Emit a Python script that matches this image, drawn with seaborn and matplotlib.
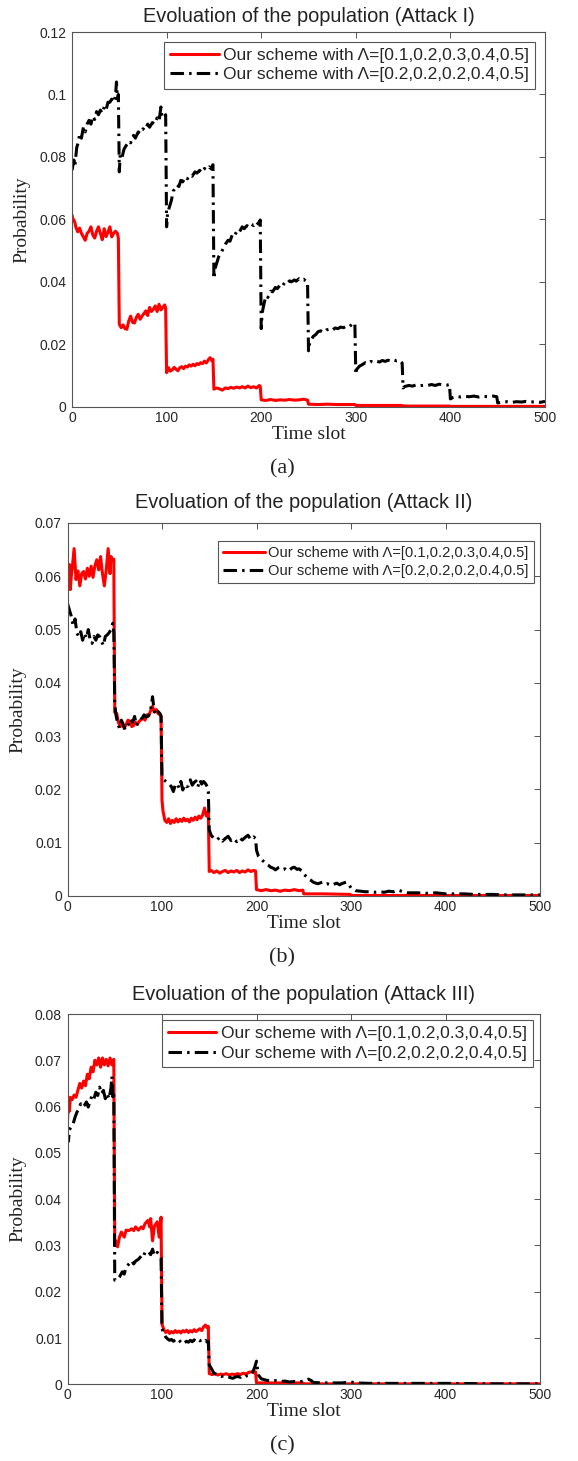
import matplotlib
matplotlib.use('Agg')
import matplotlib.pyplot as plt
import seaborn as sns
from matplotlib.ticker import MultipleLocator, FuncFormatter

# ---- data ----
label_red = 'Our scheme with Λ=[0.1,0.2,0.3,0.4,0.5]'
label_black = 'Our scheme with Λ=[0.2,0.2,0.2,0.4,0.5]'
titles = ['Evoluation of the population (Attack I)',
          'Evoluation of the population (Attack II)',
          'Evoluation of the population (Attack III)']
tags = ['(a)', '(b)', '(c)']
x_ticks = [0, 100, 200, 300, 400, 500]

# Attack I, red
t_a1 = [0, 1, 2, 3, 4, 6, 8, 10, 12, 14, 16, 18, 20, 22, 24, 26, 28, 30, 32, 34, 36, 38, 40, 42, 44, 46, 48, 49,
        50, 52, 54, 56, 58, 60, 62, 64, 66, 68, 70, 72, 74, 76, 78, 80, 82, 84, 86, 88, 90, 92, 94, 96, 98, 99,
        100, 102, 104, 106, 108, 110, 112, 114, 116, 118, 120, 122, 124, 126, 128, 130, 132, 134, 136, 138, 140,
        142, 144, 146, 148, 149,
        150, 153, 156, 159, 162, 165, 168, 171, 174, 177, 180, 183, 186, 189, 192, 195, 198, 199,
        200, 205, 210, 215, 220, 225, 230, 235, 240, 245, 249,
        250, 260, 270, 280, 290, 299, 300, 325, 349, 350, 375, 399, 400, 450, 500]
p_a1 = [0.0614, 0.0600, 0.0598, 0.0590, 0.0576, 0.0560, 0.0572, 0.0555, 0.0544, 0.0533, 0.0555, 0.0562, 0.0576,
        0.0550, 0.0540, 0.0562, 0.0576, 0.0555, 0.0535, 0.0570, 0.0545, 0.0558, 0.0576, 0.0544, 0.0555, 0.0562,
        0.0555, 0.0540,
        0.0264, 0.0253, 0.0262, 0.0250, 0.0248, 0.0275, 0.0290, 0.0270, 0.0268, 0.0286, 0.0296, 0.0280, 0.0290,
        0.0298, 0.0307, 0.0292, 0.0318, 0.0305, 0.0312, 0.0323, 0.0305, 0.0328, 0.0310, 0.0318, 0.0326, 0.0315,
        0.0109, 0.0125, 0.0114, 0.0118, 0.0126, 0.0120, 0.0115, 0.0125, 0.0128, 0.0122, 0.0130, 0.0127, 0.0134,
        0.0130, 0.0136, 0.0131, 0.0138, 0.0135, 0.0141, 0.0138, 0.0146, 0.0140, 0.0150, 0.0157, 0.0147, 0.0152,
        0.0056, 0.0060, 0.0057, 0.0053, 0.0060, 0.0058, 0.0062, 0.0059, 0.0063, 0.0060, 0.0064, 0.0060, 0.0066,
        0.0061, 0.0064, 0.0060, 0.0068, 0.0065,
        0.0022, 0.0020, 0.0023, 0.0020, 0.0022, 0.0021, 0.0023, 0.0021, 0.0022, 0.0024, 0.0021,
        0.0008, 0.0007, 0.0008, 0.0007, 0.0007, 0.0007, 0.0004, 0.0004, 0.0004, 0.0002, 0.0002, 0.0002,
        0.0001, 0.0001, 0.0001]

# Attack I, black
t_a2 = [0, 2, 3, 5, 7, 8, 10, 12, 14, 16, 18, 20, 22, 24, 26, 28, 30, 32, 34, 36, 38, 40, 42, 44, 46, 47, 48, 49,
        50, 51, 53, 55, 57, 60, 62, 65, 67, 70, 72, 75, 77, 80, 82, 85, 87, 90, 92, 94, 95, 97, 99,
        100, 101, 103, 105, 107, 109, 111, 113, 115, 117, 120, 122, 125, 127, 130, 132, 135, 137, 140, 142, 145,
        147, 149,
        150, 151, 153, 155, 157, 160, 162, 165, 167, 170, 172, 175, 177, 180, 182, 185, 187, 190, 192, 195, 197, 199,
        200, 201, 203, 205, 207, 210, 212, 215, 217, 220, 222, 225, 227, 230, 232, 235, 237, 240, 242, 245, 247, 249,
        250, 251, 253, 255, 258, 260, 263, 266, 269, 272, 275, 278, 281, 284, 287, 290, 293, 296, 299,
        300, 301, 304, 307, 310, 313, 316, 319, 322, 325, 328, 331, 334, 337, 340, 343, 346, 349,
        350, 352, 356, 360, 364, 368, 372, 376, 380, 384, 388, 392, 396, 399,
        400, 403, 407, 411, 415, 420, 425, 430, 435, 440, 445, 449,
        450, 455, 460, 465, 470, 475, 480, 485, 490, 495, 500]
p_a2 = [0.0757, 0.0790, 0.0770, 0.0830, 0.0850, 0.0875, 0.0860, 0.0895, 0.0880, 0.0905, 0.0917, 0.0905, 0.0930,
        0.0920, 0.0945, 0.0935, 0.0950, 0.0940, 0.0960, 0.0950, 0.0975, 0.0975, 0.0985, 0.0975, 0.0995, 0.1040,
        0.0985, 0.1000,
        0.0752, 0.0810, 0.0800, 0.0825, 0.0835, 0.0850, 0.0845, 0.0869, 0.0860, 0.0880, 0.0875, 0.0890, 0.0885,
        0.0905, 0.0895, 0.0910, 0.0905, 0.0925, 0.0915, 0.0960, 0.0930, 0.0925, 0.0935,
        0.0576, 0.0620, 0.0640, 0.0660, 0.0690, 0.0700, 0.0710, 0.0705, 0.0725, 0.0720, 0.0736, 0.0730, 0.0742,
        0.0738, 0.0752, 0.0748, 0.0757, 0.0750, 0.0763, 0.0758, 0.0768, 0.0762, 0.0775,
        0.0410, 0.0440, 0.0460, 0.0480, 0.0490, 0.0507, 0.0520, 0.0533, 0.0530, 0.0555, 0.0550, 0.0565, 0.0560,
        0.0576, 0.0570, 0.0580, 0.0575, 0.0584, 0.0580, 0.0592, 0.0585, 0.0598,
        0.0250, 0.0300, 0.0330, 0.0355, 0.0350, 0.0370, 0.0368, 0.0382, 0.0378, 0.0390, 0.0385, 0.0398, 0.0394,
        0.0403, 0.0400, 0.0406, 0.0402, 0.0410, 0.0405, 0.0408, 0.0402, 0.0398,
        0.0179, 0.0200, 0.0215, 0.0225, 0.0232, 0.0240, 0.0243, 0.0238, 0.0246, 0.0248, 0.0244, 0.0252, 0.0250,
        0.0255, 0.0253, 0.0258, 0.0256, 0.0264, 0.0268,
        0.0104, 0.0120, 0.0130, 0.0135, 0.0141, 0.0138, 0.0145, 0.0142, 0.0146, 0.0143, 0.0148, 0.0145, 0.0149,
        0.0146, 0.0150, 0.0147, 0.0149, 0.0140,
        0.0060, 0.0065, 0.0068, 0.0066, 0.0070, 0.0067, 0.0069, 0.0068, 0.0071, 0.0068, 0.0072, 0.0070, 0.0069,
        0.0071,
        0.0025, 0.0030, 0.0033, 0.0031, 0.0033, 0.0032, 0.0034, 0.0031, 0.0033, 0.0032, 0.0034, 0.0032,
        0.0012, 0.0015, 0.0016, 0.0014, 0.0016, 0.0015, 0.0017, 0.0015, 0.0016, 0.0014, 0.0017]

# Attack II, red
t_b1 = [0, 1, 2, 3, 4, 5, 7, 9, 11, 13, 15, 17, 19, 21, 23, 25, 27, 29, 31, 33, 35, 37, 39, 41, 43, 45, 46, 48, 49,
        50, 52, 54, 56, 58, 60, 62, 64, 66, 68, 70, 72, 74, 76, 78, 80, 82, 84, 86, 88, 90, 92, 94, 96, 98, 99,
        100, 101, 103, 105, 107, 109, 111, 113, 115, 117, 119, 121, 123, 125, 127, 129, 131, 133, 135, 137, 139,
        141, 143, 145, 147, 149,
        150, 152, 155, 158, 161, 164, 167, 170, 173, 176, 179, 182, 185, 188, 191, 194, 197, 199,
        200, 205, 210, 215, 220, 225, 230, 235, 240, 245, 249,
        250, 270, 299, 300, 400, 500]
p_b1 = [0.0615, 0.0590, 0.0622, 0.0575, 0.0600, 0.0615, 0.0652, 0.0594, 0.0610, 0.0582, 0.0605, 0.0609, 0.0595,
        0.0615, 0.0600, 0.0619, 0.0598, 0.0620, 0.0631, 0.0612, 0.0637, 0.0605, 0.0582, 0.0612, 0.0652, 0.0605,
        0.0637, 0.0630, 0.0632,
        0.0345, 0.0343, 0.0325, 0.0318, 0.0322, 0.0315, 0.0322, 0.0330, 0.0328, 0.0318, 0.0320, 0.0326, 0.0322,
        0.0328, 0.0331, 0.0334, 0.0330, 0.0340, 0.0338, 0.0348, 0.0356, 0.0345, 0.0350, 0.0342, 0.0340, 0.0338,
        0.0180, 0.0160, 0.0142, 0.0138, 0.0145, 0.0136, 0.0142, 0.0138, 0.0145, 0.0139, 0.0144, 0.0140, 0.0146,
        0.0141, 0.0144, 0.0139, 0.0146, 0.0142, 0.0148, 0.0143, 0.0150, 0.0146, 0.0152, 0.0165, 0.0150, 0.0158,
        0.0046, 0.0048, 0.0044, 0.0047, 0.0043, 0.0046, 0.0048, 0.0044, 0.0047, 0.0045, 0.0048, 0.0044, 0.0047,
        0.0045, 0.0049, 0.0046, 0.0048, 0.0047,
        0.0012, 0.0010, 0.0012, 0.0010, 0.0011, 0.0009, 0.0011, 0.0010, 0.0012, 0.0010, 0.0011,
        0.0004, 0.0004, 0.0003, 0.0001, 0.0001, 0.0001]

# Attack II, black
t_b2 = [0, 2, 4, 6, 8, 10, 12, 14, 16, 18, 20, 22, 24, 26, 28, 30, 32, 34, 36, 38, 40, 42, 44, 46, 48, 49,
        50, 51, 53, 55, 57, 59, 61, 63, 65, 67, 69, 71, 73, 75, 77, 79, 81, 83, 85, 87, 88, 90, 92, 94, 96, 98, 99,
        100, 102, 104, 106, 108, 110, 112, 114, 116, 118, 120, 122, 124, 126, 128, 130, 132, 134, 136, 138, 140,
        142, 144, 146, 148, 149,
        150, 152, 155, 158, 161, 164, 167, 170, 173, 176, 179, 182, 185, 188, 191, 194, 197, 199,
        200, 202, 205, 208, 210, 213, 215, 218, 220, 223, 225, 228, 230, 233, 235, 238, 240, 243, 245, 248,
        250, 253, 255, 258, 260, 263, 265, 268, 270, 273, 275, 278, 280, 283, 285, 288, 290, 293, 295, 298,
        300, 305, 310, 315, 320, 325, 330, 335, 340, 345, 350, 355, 360, 370, 380, 390, 400, 410, 420, 430,
        440, 450, 460, 470, 480, 490, 500]
p_b2 = [0.0549, 0.0537, 0.0525, 0.0507, 0.0520, 0.0493, 0.0487, 0.0496, 0.0480, 0.0493, 0.0484, 0.0500, 0.0480,
        0.0474, 0.0487, 0.0480, 0.0490, 0.0487, 0.0478, 0.0470, 0.0487, 0.0490, 0.0494, 0.0500, 0.0512, 0.0493,
        0.0362, 0.0343, 0.0324, 0.0315, 0.0330, 0.0322, 0.0312, 0.0318, 0.0324, 0.0332, 0.0326, 0.0337, 0.0320,
        0.0328, 0.0330, 0.0334, 0.0340, 0.0336, 0.0337, 0.0343, 0.0350, 0.0374, 0.0343, 0.0340, 0.0346, 0.0342,
        0.0337,
        0.0224, 0.0218, 0.0215, 0.0212, 0.0209, 0.0205, 0.0196, 0.0208, 0.0211, 0.0203, 0.0215, 0.0199, 0.0209,
        0.0205, 0.0207, 0.0218, 0.0208, 0.0213, 0.0216, 0.0205, 0.0218, 0.0210, 0.0215, 0.0211, 0.0205, 0.0196,
        0.0124, 0.0114, 0.0108, 0.0105, 0.0110, 0.0103, 0.0108, 0.0112, 0.0104, 0.0108, 0.0102, 0.0109, 0.0105,
        0.0110, 0.0114, 0.0106, 0.0111, 0.0108,
        0.0086, 0.0075, 0.0069, 0.0064, 0.0060, 0.0057, 0.0054, 0.0052, 0.0049, 0.0053, 0.0054, 0.0050, 0.0051,
        0.0047, 0.0049, 0.0053, 0.0054, 0.0050, 0.0051, 0.0047,
        0.0041, 0.0036, 0.0032, 0.0029, 0.0026, 0.0024, 0.0023, 0.0025, 0.0026, 0.0022, 0.0023, 0.0021, 0.0020,
        0.0023, 0.0024, 0.0021, 0.0023, 0.0025, 0.0026, 0.0021,
        0.0015, 0.0010, 0.0009, 0.0008, 0.0008, 0.0007, 0.0008, 0.0007, 0.0009, 0.0008, 0.0011, 0.0008, 0.0006,
        0.0006, 0.0005, 0.0006, 0.0004, 0.0004, 0.0004, 0.0003, 0.0003, 0.0003, 0.0002, 0.0002, 0.0002, 0.0002,
        0.0002]

# Attack III, red
t_c1 = [0, 1, 2, 3, 5, 7, 9, 11, 13, 15, 17, 19, 21, 23, 25, 27, 29, 31, 33, 35, 37, 39, 41, 43, 45, 47, 49,
        50, 51, 53, 55, 57, 60, 62, 65, 68, 70, 72, 75, 78, 80, 82, 85, 87, 88, 90, 92, 95, 97, 99,
        100, 102, 104, 106, 108, 110, 112, 114, 116, 118, 120, 122, 124, 126, 128, 130, 132, 134, 136, 138, 140,
        142, 144, 146, 148, 149,
        150, 153, 156, 159, 162, 165, 168, 171, 174, 177, 180, 183, 186, 189, 192, 195, 198, 199,
        200, 225, 249, 250, 500]
p_c1 = [0.0570, 0.0610, 0.0590, 0.0620, 0.0615, 0.0625, 0.0620, 0.0635, 0.0650, 0.0640, 0.0655, 0.0645, 0.0670,
        0.0660, 0.0685, 0.0675, 0.0700, 0.0690, 0.0705, 0.0685, 0.0705, 0.0690, 0.0702, 0.0688, 0.0705, 0.0690,
        0.0702,
        0.0300, 0.0310, 0.0297, 0.0318, 0.0329, 0.0318, 0.0333, 0.0332, 0.0336, 0.0332, 0.0340, 0.0333, 0.0340,
        0.0336, 0.0347, 0.0354, 0.0340, 0.0358, 0.0310, 0.0342, 0.0351, 0.0318, 0.0361,
        0.0130, 0.0118, 0.0112, 0.0116, 0.0110, 0.0114, 0.0111, 0.0116, 0.0112, 0.0115, 0.0111, 0.0116, 0.0113,
        0.0117, 0.0112, 0.0116, 0.0113, 0.0118, 0.0114, 0.0117, 0.0120, 0.0116, 0.0124, 0.0128, 0.0122, 0.0125,
        0.0023, 0.0021, 0.0023, 0.0020, 0.0022, 0.0021, 0.0023, 0.0020, 0.0022, 0.0021, 0.0023, 0.0021, 0.0024,
        0.0022, 0.0026, 0.0027, 0.0025, 0.0027,
        0.0003, 0.0003, 0.0003, 0.0001, 0.0001]

# Attack III, black
t_c2 = [0, 1, 2, 4, 6, 8, 10, 12, 14, 16, 18, 20, 22, 24, 26, 28, 30, 32, 34, 36, 38, 40, 42, 44, 46, 47, 48, 49,
        50, 52, 55, 58, 60, 62, 65, 68, 70, 72, 75, 78, 80, 82, 85, 88, 90, 92, 95, 97, 99,
        100, 102, 104, 106, 108, 110, 112, 114, 116, 118, 120, 122, 124, 126, 128, 130, 132, 134, 136, 138, 140,
        142, 144, 146, 148, 149,
        150, 152, 155, 158, 160, 163, 165, 168, 170, 173, 175, 178, 180, 183, 185, 188, 190, 193, 195, 198, 199,
        200, 202, 205, 210, 215, 220, 225, 230, 235, 240, 245, 250, 255, 258, 260, 270, 280, 290, 300, 305, 320,
        350, 400, 450, 500]
p_c2 = [0.0540, 0.0525, 0.0550, 0.0556, 0.0563, 0.0577, 0.0588, 0.0595, 0.0606, 0.0599, 0.0603, 0.0610, 0.0599,
        0.0613, 0.0624, 0.0617, 0.0631, 0.0624, 0.0642, 0.0628, 0.0635, 0.0617, 0.0628, 0.0617, 0.0640, 0.0665,
        0.0621, 0.0630,
        0.0225, 0.0225, 0.0232, 0.0243, 0.0238, 0.0253, 0.0260, 0.0267, 0.0260, 0.0266, 0.0270, 0.0277, 0.0274,
        0.0285, 0.0288, 0.0280, 0.0292, 0.0278, 0.0285, 0.0280, 0.0273,
        0.0120, 0.0110, 0.0102, 0.0098, 0.0095, 0.0097, 0.0093, 0.0096, 0.0092, 0.0095, 0.0091, 0.0094, 0.0090,
        0.0093, 0.0091, 0.0095, 0.0092, 0.0096, 0.0093, 0.0097, 0.0094, 0.0096, 0.0092, 0.0095, 0.0091, 0.0093,
        0.0042, 0.0035, 0.0024, 0.0021, 0.0019, 0.0017, 0.0018, 0.0016, 0.0016, 0.0014, 0.0013, 0.0016, 0.0017,
        0.0015, 0.0018, 0.0016, 0.0019, 0.0021, 0.0022, 0.0036, 0.0043,
        0.0050, 0.0020, 0.0012, 0.0009, 0.0007, 0.0008, 0.0006, 0.0007, 0.0005, 0.0006, 0.0005, 0.0007, 0.0011,
        0.0008, 0.0004, 0.0003, 0.0003, 0.0003, 0.0005, 0.0003, 0.0002, 0.0002, 0.0002, 0.0001, 0.0001]

y_max = [0.12, 0.07, 0.08]
y_step = [0.02, 0.01, 0.01]

# ---- layout (pixels of the 578x1461 picture) ----
W, H = 578, 1461
axes_px = [(72, 32, 545, 406.7), (67.5, 523, 540, 896), (67.5, 1014, 540, 1384.3)]
title_pad = [7.5, 10.5, 10]
legend_anchor = [(0.979, 0.974), (0.987, 0.952), (0.985, 0.984)]
legend_size = [12.5, 10.6, 12.5]
tag_px = [(282, 469), (282, 958), (282, 1446)]

sns.set_theme(style='white')
plt.rcParams['font.family'] = ['Liberation Sans', 'DejaVu Sans']
plt.rcParams['axes.unicode_minus'] = False

SERIF = ['Liberation Serif', 'DejaVu Serif']
EDGE = '#555555'


def draw_panel(ax, i, t_red, p_red, t_black, p_black):
    sns.lineplot(x=t_red, y=p_red, ax=ax, color='#ff0000', linewidth=2.2,
                 label=label_red, estimator=None, legend=False)
    sns.lineplot(x=t_black, y=p_black, ax=ax, color='black', linewidth=2.2,
                 linestyle=(0, (4.4, 1.7, 0.8, 1.7)),
                 label=label_black, estimator=None, legend=False)

    ax.set_xlim(0, 500)
    ax.set_ylim(0, y_max[i])
    ax.set_xticks(x_ticks)
    ax.yaxis.set_major_locator(MultipleLocator(y_step[i]))
    ax.yaxis.set_major_formatter(FuncFormatter(lambda v, _: '%g' % round(v, 4)))

    for s in ax.spines.values():
        s.set_visible(True)
        s.set_color(EDGE)
        s.set_linewidth(0.8)
    ax.tick_params(direction='in', top=True, right=True, length=4, width=0.7,
                   color=EDGE, labelsize=10, labelcolor='#262626')
    ax.tick_params(axis='x', pad=3)
    ax.tick_params(axis='y', pad=4)

    ax.set_title(titles[i], fontsize=14.4, color='#222222', pad=title_pad[i])
    ax.set_xlabel('Time slot', fontsize=14, family=SERIF, color='#222222')
    ax.set_ylabel('Probability', fontsize=14, family=SERIF, color='#222222')
    ax.xaxis.set_label_coords(0.5, -0.051)
    ax.yaxis.set_label_coords(-0.087, 0.5)

    leg = ax.legend(loc='upper right', bbox_to_anchor=legend_anchor[i], borderaxespad=0,
                    fontsize=legend_size[i], frameon=True, fancybox=False, framealpha=1,
                    edgecolor=EDGE, handlelength=2.8, handletextpad=0.25,
                    labelspacing=0.25, borderpad=0.35)
    leg.get_frame().set_linewidth(0.8)


fig = plt.figure(figsize=(W / 100, H / 100), dpi=100)
series = [(t_a1, p_a1, t_a2, p_a2), (t_b1, p_b1, t_b2, p_b2), (t_c1, p_c1, t_c2, p_c2)]
for i, (x0, y0, x1, y1) in enumerate(axes_px):
    ax = fig.add_axes([x0 / W, 1 - y1 / H, (x1 - x0) / W, (y1 - y0) / H])
    draw_panel(ax, i, *series[i])
    fig.text(tag_px[i][0] / W, 1 - tag_px[i][1] / H, tags[i], family=SERIF,
             fontsize=16, color='#222222', ha='center', va='center')

fig.savefig('out.png', dpi=100)
